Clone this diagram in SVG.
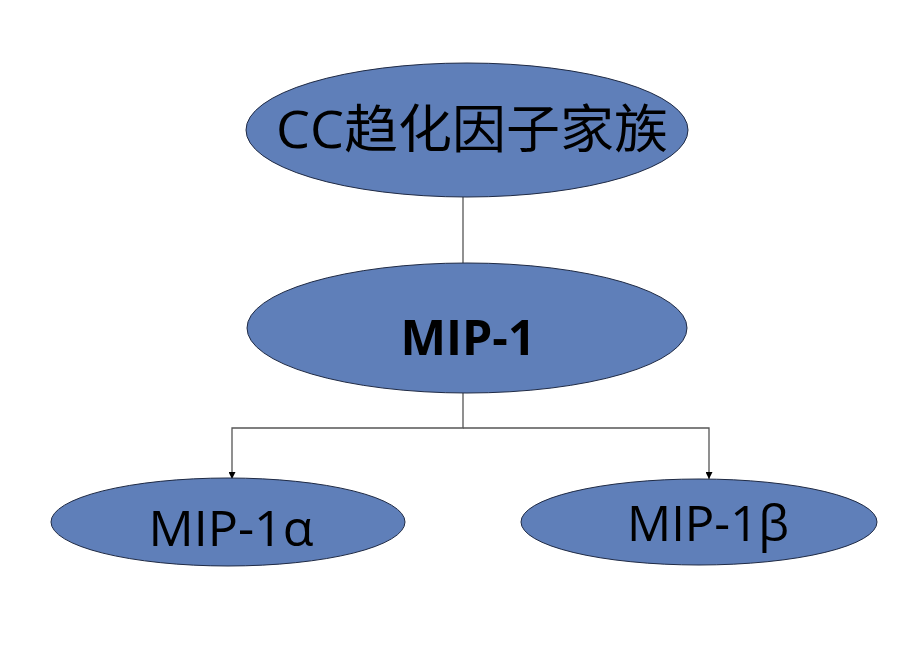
<svg xmlns="http://www.w3.org/2000/svg" width="914" height="667" viewBox="0 0 914 667">
<style>
.node{fill:#5f7fb9;stroke:#1f2a44;stroke-width:1}
.lbl{font-family:"Open Sans","Liberation Sans","Noto Sans CJK SC",sans-serif;fill:#000;text-anchor:middle}
.conn{fill:none;stroke:#555;stroke-width:1.3}
</style>
<defs>
<marker id="arr" viewBox="0 0 10 10" refX="10" refY="5" markerWidth="7" markerHeight="7" orient="auto" markerUnits="userSpaceOnUse">
<path d="M0,0 L10,5 L0,10 z" fill="#000"/>
</marker>
</defs>
<rect width="914" height="667" fill="#fff"/>
<g id="connectors">
<path class="conn" d="M463,197 V263"/>
<path class="conn" d="M463,393 V428 H232 V479" marker-end="url(#arr)"/>
<path class="conn" d="M463,428 H709 V479" marker-end="url(#arr)"/>
</g>
<g id="cc-family">
<ellipse class="node" cx="467" cy="130" rx="221" ry="67"/>
<text class="lbl" x="472" y="148" font-size="52" textLength="392" lengthAdjust="spacingAndGlyphs">CC趋化因子家族</text>
</g>
<g id="mip1">
<ellipse class="node" cx="467" cy="328" rx="220" ry="65"/>
<text class="lbl" x="468" y="355" font-size="48" font-weight="bold" textLength="135" lengthAdjust="spacingAndGlyphs">MIP-1</text>
</g>
<g id="mip1a">
<ellipse class="node" cx="228" cy="522" rx="177" ry="44"/>
<text class="lbl" x="231" y="546" font-size="49" textLength="165" lengthAdjust="spacingAndGlyphs">MIP-1α</text>
</g>
<g id="mip1b">
<ellipse class="node" cx="699" cy="522" rx="178" ry="43"/>
<text class="lbl" x="708" y="541" font-size="49" textLength="162" lengthAdjust="spacingAndGlyphs">MIP-1β</text>
</g>
</svg>
